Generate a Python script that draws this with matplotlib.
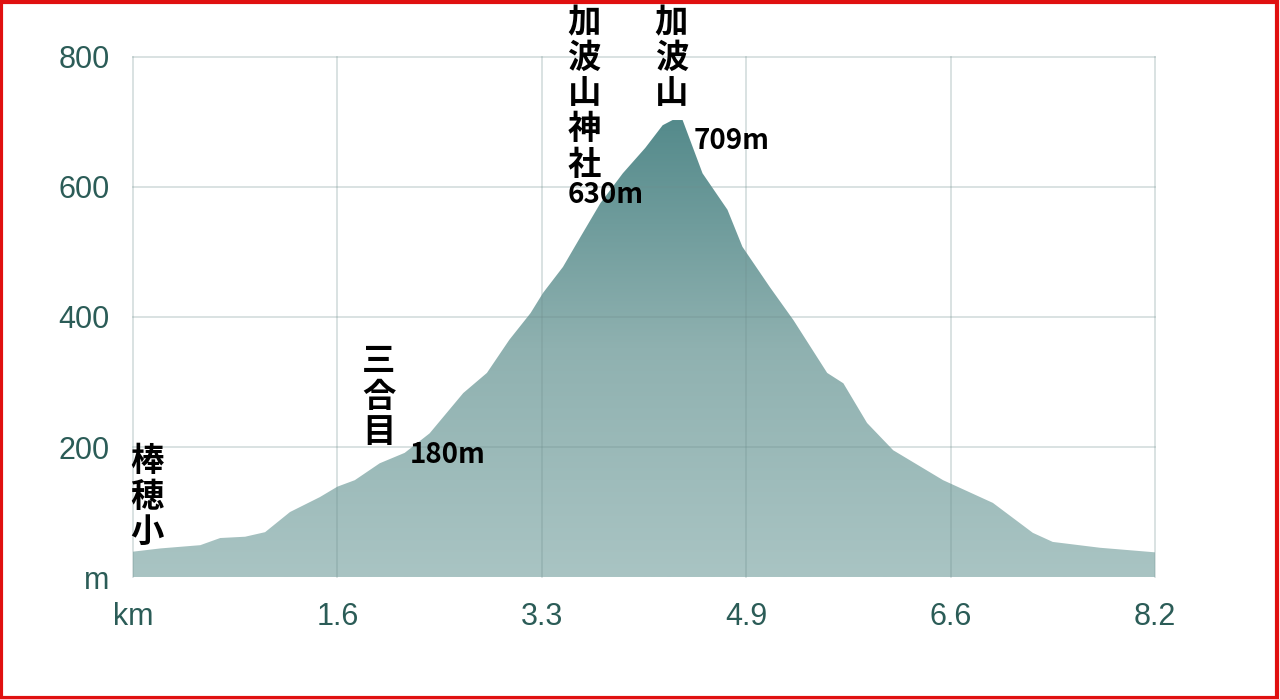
import numpy as np
import matplotlib
matplotlib.use('Agg')
import matplotlib.pyplot as plt
from matplotlib.colors import LinearSegmentedColormap
from matplotlib.patches import Rectangle

# elevation profile (km, m)
dist_km = [0.00, 0.22, 0.54, 0.70, 0.90, 1.06, 1.26, 1.50, 1.64, 1.78, 1.98, 2.18,
           2.38, 2.65, 2.84, 3.02, 3.19, 3.29, 3.45, 3.59, 3.75, 3.93, 4.11, 4.25,
           4.33, 4.41, 4.57, 4.77, 4.89, 5.11, 5.30, 5.57, 5.70, 5.89, 6.10, 6.50,
           6.90, 7.22, 7.38, 7.76, 8.20]
elev_m = [39, 44, 49, 60, 62, 69, 100, 123, 139, 149, 175, 191,
          221, 283, 314, 365, 406, 437, 477, 523, 575, 621, 660, 695,
          703, 703, 621, 565, 508, 446, 395, 314, 298, 237, 195, 149,
          114, 68, 54, 45, 38]

x_ticks = [0, 1.64, 3.28, 4.92, 6.56, 8.2]
x_labels = ['km', '1.6', '3.3', '4.9', '6.6', '8.2']
y_ticks = [0, 200, 400, 600, 800]
y_labels = ['m', '200', '400', '600', '800']

# vertical place names and heights: (text, km, m)
places = [('棒\n穂\n小', 0.11, 203),
          ('三\n合\n目', 1.97, 357),
          ('加\n波\n山\n神\n社', 3.62, 878),
          ('加\n波\n山', 4.32, 878)]
heights = [('180m', 2.22, 188), ('630m', 3.49, 588), ('709m', 4.50, 670)]

teal = '#2b5c57'
cjk = ['Noto Sans CJK JP', 'DejaVu Sans']

fig = plt.figure(figsize=(12.8, 6.99), dpi=100)
ax = fig.add_axes([0.1039, 0.1745, 0.7984, 0.744])

x = np.array(dist_km)
y = np.array(elev_m)
poly = ax.fill_between(x, 0, y, color='none', lw=0)
cmap = LinearSegmentedColormap.from_list('mt', ['#a9c4c3', '#8fb1b0', '#548a8b'])
grad = np.linspace(0, 1, 256).reshape(-1, 1)
img = ax.imshow(grad, extent=(0, 8.2, 0, 705), origin='lower', aspect='auto',
                cmap=cmap, zorder=1)
img.set_clip_path(poly.get_paths()[0], transform=ax.transData)

ax.set_xlim(0, 8.2)
ax.set_ylim(0, 800)
ax.set_xticks(x_ticks)
ax.set_xticklabels(x_labels)
ax.set_yticks(y_ticks)
ax.set_yticklabels(y_labels)
ax.tick_params(length=0, labelsize=22, labelcolor=teal)
ax.tick_params(axis='y', pad=17)
ax.tick_params(axis='x', pad=18)
for lab in ax.get_xticklabels() + ax.get_yticklabels():
    lab.set_family('Liberation Sans')

for xv in x_ticks:
    ax.axvline(xv, color='#6f8f8e', alpha=0.3, lw=1.2, zorder=3, clip_on=False)
for yv in y_ticks[1:]:
    ax.axhline(yv, color='#6f8f8e', alpha=0.3, lw=1.2, zorder=3, clip_on=False)
for s in ax.spines.values():
    s.set_visible(False)

for txt, xv, yv in places:
    ax.text(xv, yv, txt, family=cjk, fontsize=24, fontweight='bold', color='black',
            ha='center', va='top', linespacing=1.1, zorder=5, clip_on=False)
for txt, xv, yv in heights:
    ax.text(xv, yv, txt, family=cjk, fontsize=20, fontweight='bold', color='black',
            ha='left', va='center', zorder=5, clip_on=False)

fig.patches.append(Rectangle((0.001, 0.002), 0.997, 0.995, transform=fig.transFigure,
                             fill=False, edgecolor='#e01010', lw=3))

fig.savefig('out.png', dpi=100)
